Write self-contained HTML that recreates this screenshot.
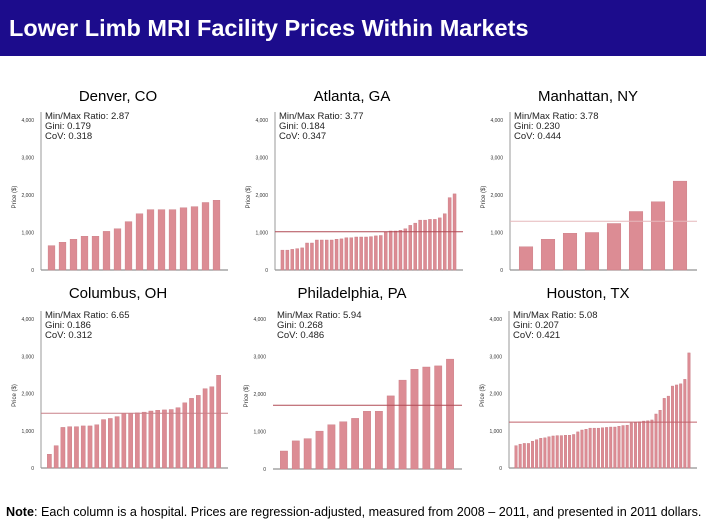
<!DOCTYPE html>
<html><head><meta charset="utf-8"><style>
body{margin:0;width:706px;height:529px;background:#fff;font-family:"Liberation Sans",Arial,sans-serif;overflow:hidden;position:relative}
#title{position:absolute;left:0;top:0;width:706px;height:56px;background:#1c0c8c;color:#fff;font-weight:bold;font-size:23.5px;line-height:56px;padding-left:9px;box-sizing:border-box}
.city{position:absolute;font-size:15px;color:#000;transform:translateX(-50%);white-space:nowrap}
#note{position:absolute;left:6px;top:505px;font-size:12.6px;white-space:nowrap}
svg{position:absolute;left:0;top:0}
</style></head><body>
<div id="title">Lower Limb MRI Facility Prices Within Markets</div>
<div class="city" style="left:118px;top:88px">Denver, CO</div>
<div class="city" style="left:352px;top:88px">Atlanta, GA</div>
<div class="city" style="left:588px;top:88px">Manhattan, NY</div>
<div class="city" style="left:118px;top:285px">Columbus, OH</div>
<div class="city" style="left:352px;top:285px">Philadelphia, PA</div>
<div class="city" style="left:588px;top:285px">Houston, TX</div>
<div id="note"><b>Note</b>: Each column is a hospital. Prices are regression-adjusted, measured from 2008 – 2011, and presented in 2011 dollars.</div>
<svg id="chart" width="706" height="529"></svg>
<script>
const yTicks = [0, 1000, 2000, 3000, 4000];
const yTickLabels = ["0", "1,000", "2,000", "3,000", "4,000"];
const denverValues = [650,740,820,900,900,1030,1100,1290,1500,1610,1610,1610,1660,1690,1800,1860];
const atlantaValues = [530,530,550,570,590,720,720,800,800,800,800,820,830,860,860,880,880,880,890,910,920,1020,1040,1040,1060,1100,1190,1250,1330,1330,1350,1350,1390,1500,1930,2030];
const manhattanValues = [620,820,980,1000,1240,1560,1820,2370];
const columbusValues = [370,600,1090,1110,1110,1130,1130,1160,1300,1330,1380,1470,1470,1480,1500,1530,1550,1560,1570,1620,1750,1870,1950,2130,2180,2490];
const philadelphiaValues = [480,750,810,1010,1180,1260,1350,1540,1540,1950,2370,2660,2720,2750,2930];
const houstonValues = [600,640,660,660,720,760,800,810,840,860,870,870,880,880,900,970,1020,1040,1070,1070,1070,1080,1090,1100,1100,1120,1140,1150,1210,1220,1240,1260,1270,1290,1450,1550,1870,1930,2200,2230,2260,2380,3090];
const refValues = [null, 1020, 1300, 1470, 1700, 1230];
const statsText = [
 ["Min/Max Ratio: 2.87","Gini: 0.179","CoV: 0.318"],
 ["Min/Max Ratio: 3.77","Gini: 0.184","CoV: 0.347"],
 ["Min/Max Ratio: 3.78","Gini: 0.230","CoV: 0.444"],
 ["Min/Max Ratio: 6.65","Gini: 0.186","CoV: 0.312"],
 ["Min/Max Ratio: 5.94","Gini: 0.268","CoV: 0.486"],
 ["Min/Max Ratio: 5.08","Gini: 0.207","CoV: 0.421"]];
const panelNames = ["denver","atlanta","manhattan","columbus","philadelphia","houston"];
const panelValues = [denverValues, atlantaValues, manhattanValues, columbusValues, philadelphiaValues, houstonValues];
const layout = [
 {x0:41,x1:228,y0:270,y4:120,axis:true,ref:"#c0606a"},
 {x0:275,x1:463,y0:270,y4:120,axis:true,ref:"#b04a55"},
 {x0:510,x1:697,y0:270,y4:120,axis:true,ref:"#e6b8bc"},
 {x0:41,x1:228,y0:468,y4:319,axis:true,ref:"#c98088"},
 {x0:273,x1:462,y0:469,y4:319,axis:false,ref:"#b04a55"},
 {x0:509,x1:697,y0:468,y4:319,axis:true,ref:"#c0606a"}];
const svg = document.getElementById('chart');
const NS = "http://www.w3.org/2000/svg";
function mk(tag, attrs, parent){const e=document.createElementNS(NS,tag);for(const k in attrs)e.setAttribute(k,attrs[k]);parent.appendChild(e);return e;}
panelValues.forEach((vals, p) => {
  const L = layout[p], name = panelNames[p];
  const g = mk('g', {}, svg);
  
  
  const yS = v => L.y0 - (L.y0 - L.y4) * v / 4000;
  const n = vals.length, left = L.x0 + 5, right = L.x1 - 6;
  const band = (right - left) / n, bw = band * 0.62;
  mk('line', {x1:L.x0, y1:L.y0, x2:L.x1, y2:L.y0, stroke:'#777', 'stroke-width':1}, g);
  if (L.axis) mk('line', {x1:L.x0, y1:L.y4 - 8, x2:L.x0, y2:L.y0, stroke:'#999', 'stroke-width':1}, g);
  yTicks.forEach((t, i) => {
    const tx = mk('text', {x:L.x0 - 7, y:yS(t) + 2, 'font-size':5, fill:'#333', 'text-anchor':'end'}, g);
    tx.textContent = yTickLabels[i];
    
    
  });
  const yl = mk('text', {x:0, y:0, 'font-size':6, fill:'#333', 'text-anchor':'middle', transform:`translate(${L.x0-25},${(L.y0+L.y4)/2+2}) rotate(-90)`}, g);
  yl.textContent = 'Price ($)';
  
  
  vals.forEach((v, i) => {
    const x = left + band * i + (band - bw) / 2;
    const r = mk('rect', {x:x, y:yS(v), width:bw, height:L.y0 - yS(v), fill:'#dc8c94', stroke:'#c77880', 'stroke-width':0.4}, g);
    
    
  });
  if (refValues[p] !== null) {
    const rl = mk('line', {x1:L.x0, x2:L.x1, y1:yS(refValues[p]), y2:yS(refValues[p]), stroke:L.ref, 'stroke-width':1}, g);
    
    
  }
  statsText[p].forEach((s, i) => {
    const st = mk('text', {x:L.x0 + 4, y:L.y4 - 1 + i * 10, 'font-size':9.5, fill:'#222'}, g);
    st.textContent = s;
    
    
  });
});
</script>
</body></html>
